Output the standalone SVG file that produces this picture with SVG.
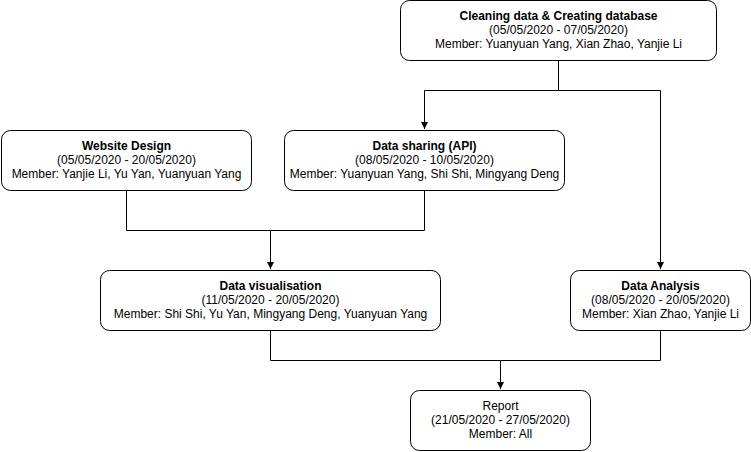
<svg xmlns="http://www.w3.org/2000/svg" width="751" height="452" viewBox="0 0 751 452">
<style>
.box{fill:#fff;stroke:#000;stroke-width:1}
.t{font-family:"Liberation Sans",Arial,sans-serif;font-size:12px;fill:#000;text-anchor:middle}
.b{font-weight:bold}
.c{fill:none;stroke:#000;stroke-width:1}
</style>
<defs>
<marker id="arr" markerWidth="8" markerHeight="8" refX="7" refY="4" orient="auto" markerUnits="userSpaceOnUse">
<path d="M0,0.5 L7,4 L0,7.5 Z" fill="#000"/>
</marker>
</defs>
<rect width="751" height="452" fill="#fff"/>
<g id="connectors">
<path class="c" d="M558.5,60.5 V90.5 H424.5 V129" marker-end="url(#arr)"/>
<path class="c" d="M558.5,90.5 H660.5 V269" marker-end="url(#arr)"/>
<path class="c" d="M126.5,190.5 V230.5 H270.5 V269" marker-end="url(#arr)"/>
<path class="c" d="M424.5,190.5 V230.5 H270.5"/>
<path class="c" d="M270.5,330.5 V360.5 H500.5 V389" marker-end="url(#arr)"/>
<path class="c" d="M660.5,330.5 V360.5 H500.5"/>
</g>
<g id="cleaning">
<rect class="box" x="400.5" y="0.5" width="316" height="60" rx="9"/>
<text class="t b" x="558.5" y="20">Cleaning data &amp; Creating database</text>
<text class="t" x="558.5" y="34">(05/05/2020 - 07/05/2020)</text>
<text class="t" x="558.5" y="48">Member: Yuanyuan Yang, Xian Zhao, Yanjie Li</text>
</g>
<g id="website">
<rect class="box" x="1.5" y="130.5" width="250" height="60" rx="9"/>
<text class="t b" x="126.5" y="150">Website Design</text>
<text class="t" x="126.5" y="164">(05/05/2020 - 20/05/2020)</text>
<text class="t" x="126.5" y="178">Member: Yanjie Li, Yu Yan, Yuanyuan Yang</text>
</g>
<g id="sharing">
<rect class="box" x="284.5" y="130.5" width="280" height="60" rx="9"/>
<text class="t b" x="424.5" y="150">Data sharing (API)</text>
<text class="t" x="424.5" y="164">(08/05/2020 - 10/05/2020)</text>
<text class="t" x="424.5" y="178">Member: Yuanyuan Yang, Shi Shi, Mingyang Deng</text>
</g>
<g id="visualisation">
<rect class="box" x="100.5" y="270.5" width="340" height="60" rx="9"/>
<text class="t b" x="270.5" y="290">Data visualisation</text>
<text class="t" x="270.5" y="304">(11/05/2020 - 20/05/2020)</text>
<text class="t" x="270.5" y="318">Member: Shi Shi, Yu Yan, Mingyang Deng, Yuanyuan Yang</text>
</g>
<g id="analysis">
<rect class="box" x="570.5" y="270.5" width="180" height="60" rx="9"/>
<text class="t b" x="660.5" y="290">Data Analysis</text>
<text class="t" x="660.5" y="304">(08/05/2020 - 20/05/2020)</text>
<text class="t" x="660.5" y="318">Member: Xian Zhao, Yanjie Li</text>
</g>
<g id="report">
<rect class="box" x="410.5" y="390.5" width="180" height="60" rx="9"/>
<text class="t" x="500.5" y="410">Report</text>
<text class="t" x="500.5" y="424">(21/05/2020 - 27/05/2020)</text>
<text class="t" x="500.5" y="438">Member: All</text>
</g>
</svg>
